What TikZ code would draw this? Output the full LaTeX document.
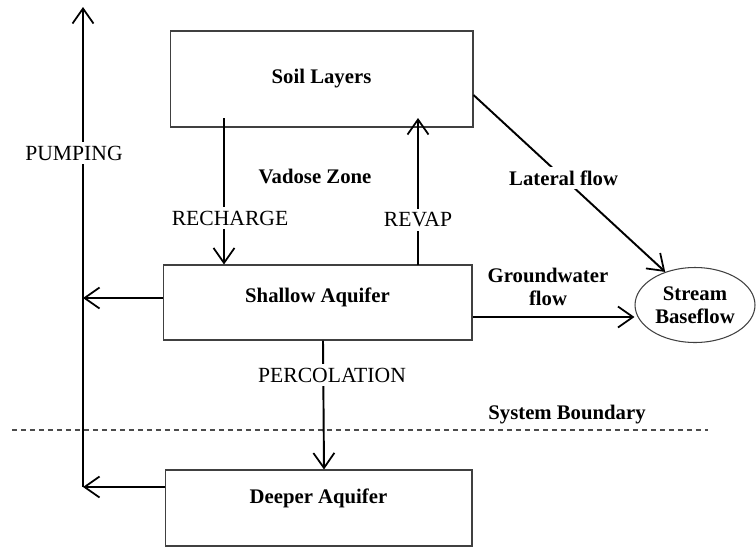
\documentclass[tikz,border=0pt]{standalone}
\usepackage{fontspec}
\setmainfont{Liberation Serif}
\usetikzlibrary{arrows.meta,shapes.geometric}
\begin{document}
\begin{tikzpicture}[x=0.02cm,y=-0.02cm,
        bsty/.style={rectangle,draw=black!75,line width=0.6pt,inner sep=0pt,font=\fontsize{11.8pt}{13pt}\selectfont\bfseries},
        lsty/.style={font=\fontsize{11.8pt}{13pt}\selectfont\bfseries,align=center},
        csty/.style={font=\fontsize{12.3pt}{13pt}\selectfont,fill=white,inner sep=2pt},
        fsty/.style={line width=1.1pt,-{Straight Barb[length=0.3cm,width=0.42cm,line width=1pt]}},
        ]
    \useasboundingbox (0,0) rectangle (756,548);

    \node (soil) at (321.5,79) [bsty,minimum width=6.06cm,minimum height=1.92cm] {Soil Layers};
    \node (shallow) at (317.5,302.5) [bsty,minimum width=6.18cm,minimum height=1.5cm,text depth=0.29cm] {Shallow Aquifer};
    \node (deeper) at (318.5,508) [bsty,minimum width=6.14cm,minimum height=1.52cm,text depth=0.49cm] {Deeper Aquifer};
    \node (stream) at (695,305) [ellipse,draw=black!75,line width=0.6pt,inner sep=0pt,minimum width=2.4cm,minimum height=1.5cm,lsty] {Stream\\Baseflow};

    \node (vadose) at (315,176) [lsty] {Vadose Zone};
    \node (gwlbl) at (548,287) [lsty] {Groundwater\\flow};
    \node (bndlbl) at (567,415) [lsty] {System Boundary};

    \coordinate (pumptop) at (83,7);
    \coordinate (pumpshal) at (83,298);
    \coordinate (pumpdeep) at (83,487);
    \coordinate (rchtop) at (224,118);
    \coordinate (rvpbot) at (418,265);
    \coordinate (rvptop) at (418,118);
    \coordinate (bndl) at (12,430);
    \coordinate (bndr) at (708,430);

    \draw[black!70,line width=0.6pt,dash pattern=on 0.1cm off 0.08cm] (bndl) -- (bndr);

    \draw[fsty] (pumpdeep) -- (pumptop);
    \draw[fsty] (shallow.west |- pumpshal) -- (pumpshal);
    \draw[fsty] (deeper.west |- pumpdeep) -- (pumpdeep);
    \draw[fsty] (rchtop) -- (rchtop |- shallow.north);
    \draw[fsty] (rvpbot) -- (rvptop);
    \draw[fsty] ([xshift=0.11cm]shallow.south) -- ([xshift=0.11cm]deeper.north);
    \draw[fsty] ([yshift=-0.29cm]shallow.east) -- ([yshift=-0.29cm]shallow.east -| stream.west);
    \draw[fsty] ([yshift=-0.32cm]soil.east) -- node[pos=0.47,lsty,fill=white,inner sep=2pt] {Lateral flow} (stream.132);

    \node (pumping) at (74,153) [csty] {PUMPING};
    \node (recharge) at (230,218) [csty] {RECHARGE};
    \node (revap) at (418,220) [csty] {REVAP};
    \node (perc) at (332,375) [csty] {PERCOLATION};

\end{tikzpicture}
\end{document}
